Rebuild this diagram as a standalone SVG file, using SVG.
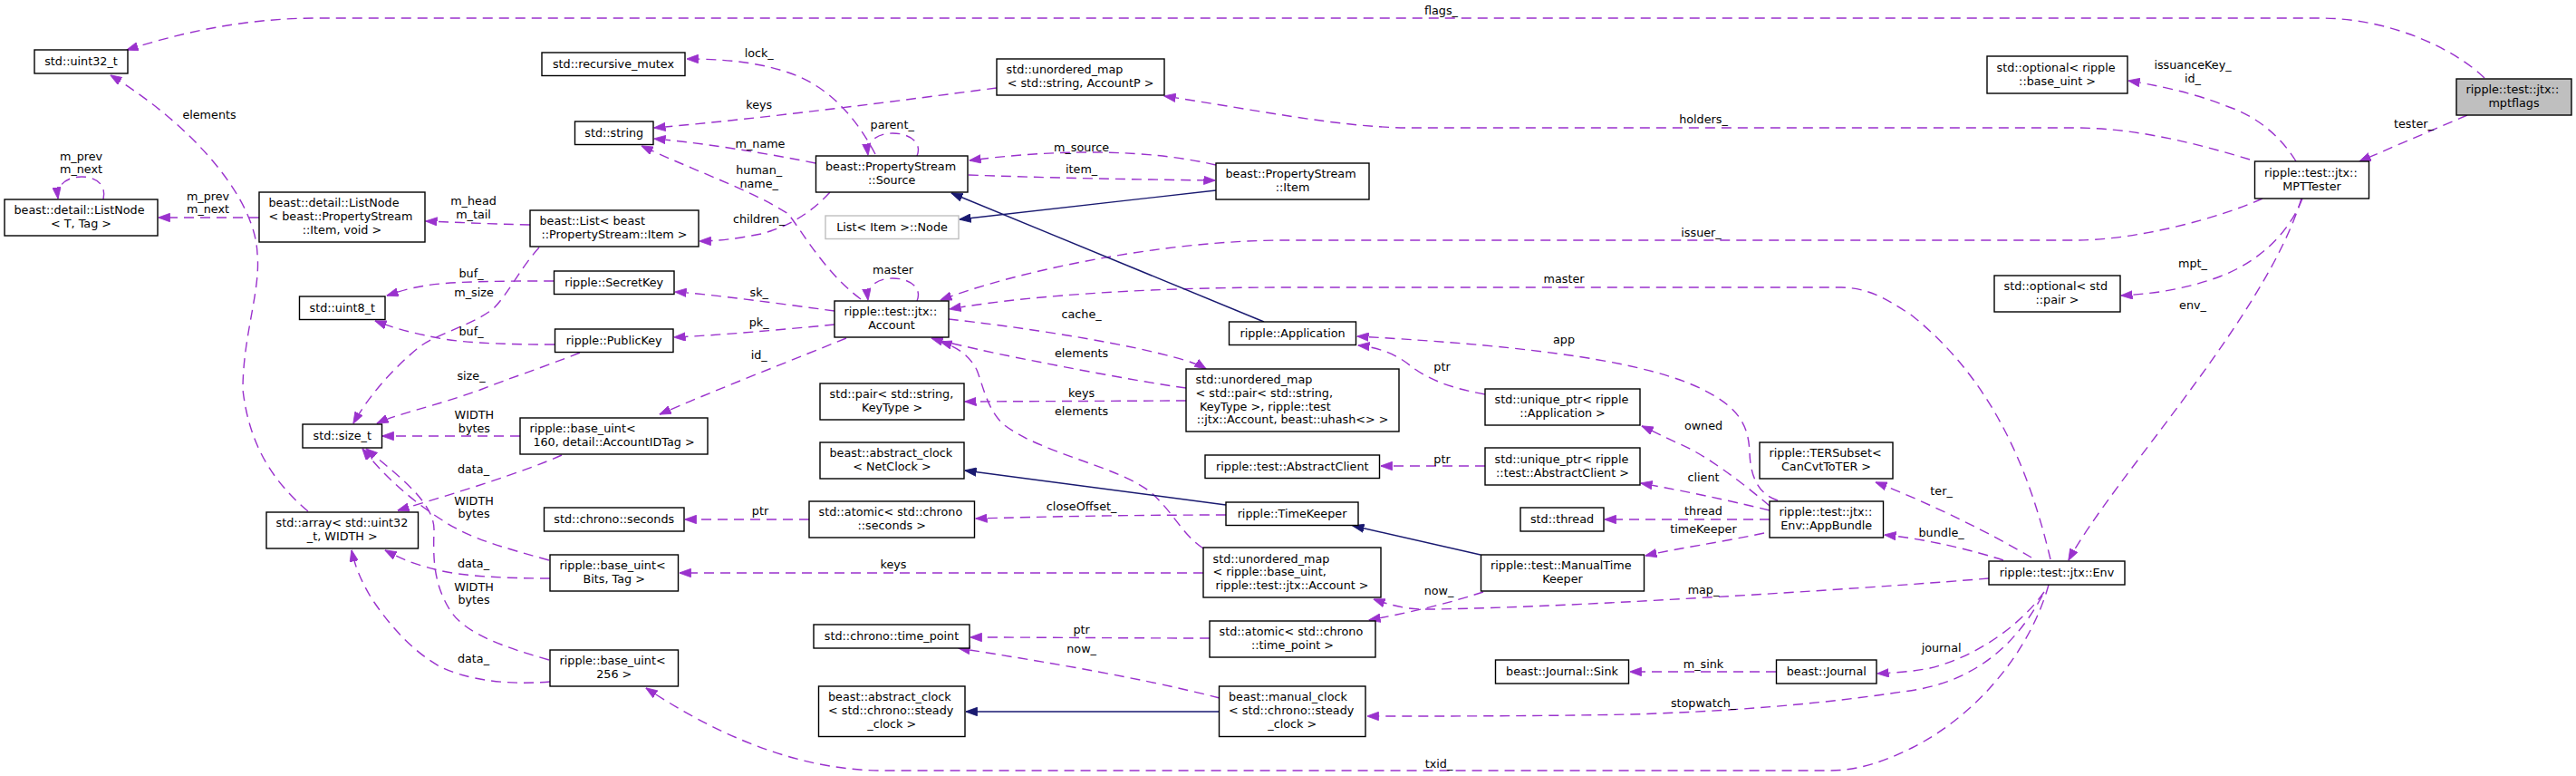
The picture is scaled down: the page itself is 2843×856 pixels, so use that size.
<svg xmlns="http://www.w3.org/2000/svg" width="2843" height="856" viewBox="0 0 2843 856">
<style>
text{font-family:"DejaVu Sans","Liberation Sans",sans-serif;font-size:12.75px;fill:#000}
.n rect{fill:#fff;stroke:#000;stroke-width:1.4}
.g rect{fill:#fff;stroke:#bfbfbf;stroke-width:1.4}
.f rect{fill:#bfbfbf;stroke:#000;stroke-width:1.4}
.m{text-anchor:middle}
.e{fill:none;stroke:#9a32cd;stroke-width:1.4;stroke-dasharray:11 7;marker-end:url(#ap)}
.i{fill:none;stroke:#191970;stroke-width:1.4;marker-end:url(#ab)}
</style>
<defs>
<marker id="ap" viewBox="0 0 13 10" refX="12.5" refY="5" markerWidth="13" markerHeight="10" markerUnits="userSpaceOnUse" orient="auto"><path d="M0,0.3 L13,5 L0,9.7 z" fill="#9a32cd" stroke="#9a32cd" stroke-width="0.8"/></marker>
<marker id="ab" viewBox="0 0 13 10" refX="12.5" refY="5" markerWidth="13" markerHeight="10" markerUnits="userSpaceOnUse" orient="auto"><path d="M0,0.3 L13,5 L0,9.7 z" fill="#191970" stroke="#191970" stroke-width="0.8"/></marker>
</defs>
<rect width="2843" height="856" fill="#fff"/>
<g id="connectors">
<g><path class="e" d="M2742,86 C2710,55 2640,20 2560,20 L350,20 C270,20 200,36 140,55"/><text class="m" x="1590.5" y="16.3">flags_</text></g>
<g><path class="e" d="M2723,127 L2604,178"/><text class="m" x="2664" y="141.3">tester_</text></g>
<g><path class="e" d="M2534,178 C2520,155 2495,130 2460,118 C2420,102 2380,94 2349,89"/><text class="m" x="2420" y="76.3">issuanceKey_</text><text class="m" x="2420" y="91.3">id_</text></g>
<g><path class="e" d="M2483,176 C2430,160 2360,141 2290,141 L1556,141 C1480,141 1380,120 1285,106"/><text class="m" x="1880" y="136.3">holders_</text></g>
<g><path class="e" d="M2497,219 C2450,240 2360,265 2290,265 L1420,265 C1280,265 1120,300 1038,331"/><text class="m" x="1877.5" y="261.3">issuer_</text></g>
<g><path class="e" d="M2541,219 C2525,260 2490,290 2450,305 C2415,318 2380,324 2341,326"/><text class="m" x="2420" y="295.3">mpt_</text></g>
<g><path class="e" d="M2540,219 C2500,350 2330,530 2283,618"/><text class="m" x="2420" y="341.3">env_</text></g>
<g><path class="e" d="M2263,617 C2240,520 2200,420 2110,348 C2080,328 2060,317 2030,317 L1420,317 C1250,317 1120,328 1048,341"/><text class="m" x="1726" y="312.3">master</text></g>
<g><path class="e" d="M1012,332 C1018,318 1005,307 985,307 C968,307 956,316 958,331"/><text class="m" x="985.6" y="302.3">master</text></g>
<g><path class="e" d="M1012,172 C1018,158 1005,147 985,147 C968,147 956,156 958,171"/><text class="m" x="984.7" y="142.3">parent_</text></g>
<g><path class="e" d="M966,170 C945,130 915,95 870,80 C835,68 795,65 758,65"/><text class="m" x="837.7" y="63.3">lock_</text></g>
<g><path class="e" d="M1100,97 C1000,110 850,130 722,141"/><text class="m" x="837.7" y="120.3">keys</text></g>
<g><path class="e" d="M900,180 C850,170 780,158 722,153"/><text class="m" x="839" y="163.3">m_name</text></g>
<g><path class="e" d="M950,330 C910,300 885,255 870,236 C830,210 770,190 708,161"/><text class="m" x="837.7" y="192.3">human_</text><text class="m" x="837.7" y="207.3">name_</text></g>
<g><path class="e" d="M916,212 C895,235 870,250 840,258 C810,264 790,266 772,266"/><text class="m" x="837.7" y="246.3">children_</text></g>
<g><path class="e" d="M1342,182 C1290,170 1240,168 1200,168 C1150,168 1100,173 1070,177"/><text class="m" x="1193.6" y="167.3">m_source</text></g>
<g><path class="e" d="M1069,193 C1150,196 1250,198 1341,199"/><text class="m" x="1193.6" y="191.3">item_</text></g>
<g><path class="i" d="M1342,210 L1059,242"/></g>
<g><path class="i" d="M1395,355 L1050,213"/></g>
<g><path class="e" d="M585,248 C540,247 500,245 470,244"/><text class="m" x="522.5" y="226.3">m_head</text><text class="m" x="522.5" y="241.3">m_tail</text></g>
<g><path class="e" d="M286,240 L175,240"/><text class="m" x="229.5" y="221.3">m_prev</text><text class="m" x="229.5" y="235.3">m_next</text></g>
<g><path class="e" d="M114,220 C118,203 105,195 90,195 C75,195 62,203 64,219"/><text class="m" x="89.5" y="177.3">m_prev</text><text class="m" x="89.5" y="191.3">m_next</text></g>
<g><path class="e" d="M340,564 C300,530 275,490 268,430 C268,370 288,320 284,280 C282,220 215,140 122,83"/><text class="m" x="231" y="131.3">elements</text></g>
<g><path class="e" d="M595,273 C575,295 560,325 545,340 C520,360 480,368 460,385 C430,410 405,440 390,467"/><text class="m" x="523" y="327.3">m_size</text></g>
<g><path class="e" d="M611,310 C560,310 500,310 470,315 C450,318 440,322 427,326"/><text class="m" x="520" y="306.3">buf_</text></g>
<g><path class="e" d="M612,380 C550,380 500,378 470,370 C445,365 430,360 414,354"/><text class="m" x="520" y="370.3">buf_</text></g>
<g><path class="e" d="M640,389 C600,405 560,418 530,430 C480,448 440,456 416,467"/><text class="m" x="520" y="419.3">size_</text></g>
<g><path class="e" d="M921,343 C860,335 790,325 745,322"/><text class="m" x="837.7" y="327.3">sk_</text></g>
<g><path class="e" d="M921,358 C860,364 790,370 744,372"/><text class="m" x="837.7" y="360.3">pk_</text></g>
<g><path class="e" d="M934,373 C880,395 790,430 728,457"/><text class="m" x="837.7" y="396.3">id_</text></g>
<g><path class="e" d="M574,481 L422,481"/><text class="m" x="523.4" y="462.3">WIDTH</text><text class="m" x="523.4" y="477.3">bytes</text></g>
<g><path class="e" d="M620,502 C580,520 500,545 439,563"/><text class="m" x="522.5" y="522.3">data_</text></g>
<g><path class="e" d="M606,618 C560,605 520,595 490,575 C450,550 420,520 400,495"/><text class="m" x="523" y="557.3">WIDTH</text><text class="m" x="523" y="571.3">bytes</text></g>
<g><path class="e" d="M607,638 C560,638 510,636 480,628 C455,622 440,615 425,607"/><text class="m" x="522.5" y="626.3">data_</text></g>
<g><path class="e" d="M606,728 C560,715 515,700 498,675 C478,645 478,615 479,585 C480,555 440,525 404,495"/><text class="m" x="523" y="652.3">WIDTH</text><text class="m" x="523" y="666.3">bytes</text></g>
<g><path class="e" d="M607,752 C560,756 515,750 485,735 C455,718 430,690 410,660 C398,640 392,625 388,607"/><text class="m" x="522.5" y="731.3">data_</text></g>
<g><path class="e" d="M1047,352 C1120,360 1220,375 1280,390 C1300,395 1320,400 1331,407"/><text class="m" x="1193.6" y="351.3">cache_</text></g>
<g><path class="e" d="M1309,428 C1250,420 1150,400 1100,390 C1070,383 1045,378 1028,373"/><text class="m" x="1193.6" y="394.3">elements</text></g>
<g><path class="e" d="M1309,442 L1065,443"/><text class="m" x="1193.6" y="438.3">keys</text></g>
<g><path class="e" d="M1328,605 C1305,590 1295,565 1270,543 C1235,515 1150,500 1110,470 C1090,455 1085,425 1078,408 C1070,392 1055,382 1038,377"/><text class="m" x="1193.6" y="458.3">elements</text></g>
<g><path class="e" d="M1328,632 L750,632"/><text class="m" x="986" y="627.3">keys</text></g>
<g><path class="e" d="M893,573 L756,573"/><text class="m" x="839" y="568.3">ptr</text></g>
<g><path class="e" d="M1353,568 C1250,568 1150,570 1077,572"/><text class="m" x="1193.6" y="563.3">closeOffset_</text></g>
<g><path class="i" d="M1353,557 L1065,519"/></g>
<g><path class="e" d="M1335,704 C1250,704 1150,703 1071,703"/><text class="m" x="1193.6" y="699.3">ptr</text></g>
<g><path class="e" d="M1346,770 C1250,745 1120,725 1058,715"/><text class="m" x="1193.6" y="720.3">now_</text></g>
<g><path class="i" d="M1345,785 L1066,785"/></g>
<g><path class="e" d="M2261,645 C2240,720 2180,790 2110,825 C2080,840 2050,850 2020,850 L975,850 C880,850 790,810 713,759"/><text class="m" x="1588" y="847.3">txid_</text></g>
<g><path class="e" d="M2195,638 C2050,650 1700,672 1570,672 C1550,672 1530,666 1516,661"/><text class="m" x="1880" y="655.3">map_</text></g>
<g><path class="e" d="M1637,653 C1600,665 1560,675 1511,684"/><text class="m" x="1588" y="656.3">now_</text></g>
<g><path class="i" d="M1634,612 L1493,580"/></g>
<g><path class="e" d="M1639,435 C1600,428 1575,418 1556,403 C1540,390 1520,383 1499,381"/><text class="m" x="1591.5" y="409.3">ptr</text></g>
<g><path class="e" d="M1962,552 C1940,545 1932,525 1931,500 C1930,470 1920,450 1880,430 C1820,400 1700,382 1498,371"/><text class="m" x="1726" y="379.3">app</text></g>
<g><path class="e" d="M1953,558 C1920,530 1880,500 1850,488 C1835,481 1825,476 1812,470"/><text class="m" x="1880" y="474.3">owned</text></g>
<g><path class="e" d="M1953,563 C1900,550 1850,540 1811,533"/><text class="m" x="1880" y="531.3">client</text></g>
<g><path class="e" d="M1639,514 L1524,514"/><text class="m" x="1591.5" y="511.3">ptr</text></g>
<g><path class="e" d="M1953,573 L1771,573"/><text class="m" x="1880" y="568.3">thread</text></g>
<g><path class="e" d="M1947,588 C1900,598 1850,605 1816,613"/><text class="m" x="1880" y="588.3">timeKeeper</text></g>
<g><path class="e" d="M2242,615 C2200,590 2130,555 2070,532"/><text class="m" x="2142.6" y="546.3">ter_</text></g>
<g><path class="e" d="M2211,618 C2180,608 2130,595 2080,590"/><text class="m" x="2142.6" y="592.3">bundle_</text></g>
<g><path class="e" d="M2256,653 C2230,690 2180,725 2130,737 C2110,741 2090,742 2072,743"/><text class="m" x="2142.6" y="719.3">journal</text></g>
<g><path class="e" d="M1960,741 L1799,741"/><text class="m" x="1880" y="737.3">m_sink</text></g>
<g><path class="e" d="M2254,657 C2220,720 2170,755 2100,763 C2000,778 1900,785 1800,788 C1700,790 1600,790 1509,790"/><text class="m" x="1880" y="780.3">stopwatch_</text></g>
</g>
<g id="n_uint32" class="n"><rect x="38" y="55" width="103" height="26"/><text class="m" x="89.5" y="71.7">std::uint32_t</text></g>
<g id="n_recursive_mutex" class="n"><rect x="598" y="58" width="158" height="25.5"/><text class="m" x="677" y="74.5">std::recursive_mutex</text></g>
<g id="n_string" class="n"><rect x="634.5" y="134" width="86.5" height="25.5"/><text class="m" x="677.75" y="150.5">std::string</text></g>
<g id="n_listnode_t" class="n"><rect x="5" y="220" width="169" height="40"/><text x="15.5" y="236.35">beast::detail::ListNode</text><text class="m" x="89.5" y="251.05">&lt; T, Tag &gt;</text></g>
<g id="n_listnode_item" class="n"><rect x="286" y="212" width="183" height="55"/><text x="296.5" y="228.2">beast::detail::ListNode</text><text x="296.5" y="242.9">&lt; beast::PropertyStream</text><text class="m" x="377.5" y="257.6">::Item, void &gt;</text></g>
<g id="n_list" class="n"><rect x="585" y="232" width="186" height="40"/><text x="595.5" y="248.35">beast::List&lt; beast</text><text class="m" x="678" y="263.05">::PropertyStream::Item &gt;</text></g>
<g id="n_secretkey" class="n"><rect x="611.5" y="299" width="132.5" height="25.5"/><text class="m" x="677.75" y="315.5">ripple::SecretKey</text></g>
<g id="n_uint8" class="n"><rect x="330.5" y="327" width="94.5" height="25.5"/><text class="m" x="377.75" y="343.5">std::uint8_t</text></g>
<g id="n_publickey" class="n"><rect x="612.5" y="363" width="130.5" height="25.5"/><text class="m" x="677.75" y="379.5">ripple::PublicKey</text></g>
<g id="n_umap_string" class="n"><rect x="1100" y="65" width="185" height="40"/><text x="1110.5" y="81.35">std::unordered_map</text><text class="m" x="1192.5" y="96.05">&lt; std::string, AccountP &gt;</text></g>
<g id="n_source" class="n"><rect x="900.5" y="172" width="167.5" height="40"/><text x="911" y="188.35">beast::PropertyStream</text><text class="m" x="984.25" y="203.05">::Source</text></g>
<g id="n_item" class="n"><rect x="1342" y="180" width="169" height="40"/><text x="1352.5" y="196.35">beast::PropertyStream</text><text class="m" x="1426.5" y="211.05">::Item</text></g>
<g id="n_node" class="g"><rect x="911" y="238" width="147" height="25.5"/><text class="m" x="984.5" y="254.5">List&lt; Item &gt;::Node</text></g>
<g id="n_account" class="n"><rect x="921" y="332" width="126" height="40"/><text x="931.5" y="348.35">ripple::test::jtx::</text><text class="m" x="984" y="363.05">Account</text></g>
<g id="n_application" class="n"><rect x="1356.5" y="355" width="140" height="25.5"/><text class="m" x="1426.5" y="371.5">ripple::Application</text></g>
<g id="n_umap_pair" class="n"><rect x="1309" y="407" width="235" height="69"/><text x="1319.5" y="423.15">std::unordered_map</text><text x="1319.5" y="437.85">&lt; std::pair&lt; std::string,</text><text x="1324" y="452.55">KeyType &gt;, ripple::test</text><text class="m" x="1426.5" y="467.25">::jtx::Account, beast::uhash&lt;&gt; &gt;</text></g>
<g id="n_opt_base_uint" class="n"><rect x="2193" y="62" width="155" height="41"/><text x="2203.5" y="78.85">std::optional&lt; ripple</text><text class="m" x="2270.5" y="93.55">::base_uint &gt;</text></g>
<g id="n_mptflags" class="f"><rect x="2711" y="87" width="127" height="40"/><text x="2721.5" y="103.35">ripple::test::jtx::</text><text class="m" x="2774.5" y="118.05">mptflags</text></g>
<g id="n_mpttester" class="n"><rect x="2488.5" y="178" width="126" height="41"/><text x="2499" y="194.85">ripple::test::jtx::</text><text class="m" x="2551.5" y="209.55">MPTTester</text></g>
<g id="n_opt_pair" class="n"><rect x="2201" y="304" width="139" height="40"/><text x="2211.5" y="320.35">std::optional&lt; std</text><text class="m" x="2270.5" y="335.05">::pair &gt;</text></g>
<g id="n_size_t" class="n"><rect x="334" y="468" width="87.5" height="26"/><text class="m" x="377.75" y="484.7">std::size_t</text></g>
<g id="n_base_uint160" class="n"><rect x="574" y="461" width="207" height="40"/><text x="584.5" y="477.35">ripple::base_uint&lt;</text><text class="m" x="677.5" y="492.05">160, detail::AccountIDTag &gt;</text></g>
<g id="n_array" class="n"><rect x="294" y="565" width="167.5" height="40"/><text x="304.5" y="581.35">std::array&lt; std::uint32</text><text class="m" x="377.75" y="596.05">_t, WIDTH &gt;</text></g>
<g id="n_seconds" class="n"><rect x="600.5" y="560" width="154.5" height="26"/><text class="m" x="677.75" y="576.7">std::chrono::seconds</text></g>
<g id="n_base_uint_bits" class="n"><rect x="607" y="612" width="141.5" height="40"/><text x="617.5" y="628.35">ripple::base_uint&lt;</text><text class="m" x="677.75" y="643.05">Bits, Tag &gt;</text></g>
<g id="n_base_uint256" class="n"><rect x="607" y="717" width="141.5" height="40"/><text x="617.5" y="733.35">ripple::base_uint&lt;</text><text class="m" x="677.75" y="748.05">256 &gt;</text></g>
<g id="n_pair" class="n"><rect x="905" y="423" width="159" height="40"/><text x="915.5" y="439.35">std::pair&lt; std::string,</text><text class="m" x="984.5" y="454.05">KeyType &gt;</text></g>
<g id="n_abstract_netclock" class="n"><rect x="905" y="488" width="159" height="40"/><text x="915.5" y="504.35">beast::abstract_clock</text><text class="m" x="984.5" y="519.05">&lt; NetClock &gt;</text></g>
<g id="n_abstractclient" class="n"><rect x="1330" y="502" width="192.5" height="25.5"/><text class="m" x="1426.25" y="518.5">ripple::test::AbstractClient</text></g>
<g id="n_atomic_seconds" class="n"><rect x="893" y="553" width="182.5" height="40"/><text x="903.5" y="569.35">std::atomic&lt; std::chrono</text><text class="m" x="984.25" y="584.05">::seconds &gt;</text></g>
<g id="n_timekeeper" class="n"><rect x="1353" y="554" width="146" height="25.5"/><text class="m" x="1426" y="570.5">ripple::TimeKeeper</text></g>
<g id="n_umap_base" class="n"><rect x="1328" y="604" width="196" height="55"/><text x="1338.5" y="620.5">std::unordered_map</text><text x="1338.5" y="635.2">&lt; ripple::base_uint,</text><text class="m" x="1426" y="649.9">ripple::test::jtx::Account &gt;</text></g>
<g id="n_time_point" class="n"><rect x="898" y="689" width="172" height="26"/><text class="m" x="984" y="705.7">std::chrono::time_point</text></g>
<g id="n_atomic_tp" class="n"><rect x="1335" y="685" width="183" height="40"/><text x="1345.5" y="701.35">std::atomic&lt; std::chrono</text><text class="m" x="1426.5" y="716.05">::time_point &gt;</text></g>
<g id="n_abstract_steady" class="n"><rect x="903.5" y="757" width="161.5" height="55.5"/><text x="914" y="773.45">beast::abstract_clock</text><text x="914" y="788.15">&lt; std::chrono::steady</text><text class="m" x="984.25" y="802.85">_clock &gt;</text></g>
<g id="n_manual_clock" class="n"><rect x="1345.5" y="757" width="161.5" height="55.5"/><text x="1356" y="773.45">beast::manual_clock</text><text x="1356" y="788.15">&lt; std::chrono::steady</text><text class="m" x="1426.25" y="802.85">_clock &gt;</text></g>
<g id="n_uptr_app" class="n"><rect x="1639" y="429" width="171" height="40"/><text x="1649.5" y="445.35">std::unique_ptr&lt; ripple</text><text class="m" x="1724.5" y="460.05">::Application &gt;</text></g>
<g id="n_tersubset" class="n"><rect x="1942" y="488" width="147" height="40"/><text x="1952.5" y="504.35">ripple::TERSubset&lt;</text><text class="m" x="2015.5" y="519.05">CanCvtToTER &gt;</text></g>
<g id="n_uptr_client" class="n"><rect x="1639" y="494" width="171" height="41"/><text x="1649.5" y="510.85">std::unique_ptr&lt; ripple</text><text class="m" x="1724.5" y="525.55">::test::AbstractClient &gt;</text></g>
<g id="n_thread" class="n"><rect x="1678" y="560" width="92" height="26"/><text class="m" x="1724" y="576.7">std::thread</text></g>
<g id="n_appbundle" class="n"><rect x="1953" y="553" width="125.5" height="40"/><text x="1963.5" y="569.35">ripple::test::jtx::</text><text class="m" x="2015.75" y="584.05">Env::AppBundle</text></g>
<g id="n_manualtimekeeper" class="n"><rect x="1634.5" y="612" width="180" height="40"/><text x="1645" y="628.35">ripple::test::ManualTime</text><text class="m" x="1724.5" y="643.05">Keeper</text></g>
<g id="n_sink" class="n"><rect x="1650.5" y="728" width="147" height="26"/><text class="m" x="1724" y="744.7">beast::Journal::Sink</text></g>
<g id="n_journal" class="n"><rect x="1960.5" y="728" width="110.5" height="26"/><text class="m" x="2015.75" y="744.7">beast::Journal</text></g>
<g id="n_env" class="n"><rect x="2195" y="619" width="150" height="26"/><text class="m" x="2270" y="635.7">ripple::test::jtx::Env</text></g>
</svg>
